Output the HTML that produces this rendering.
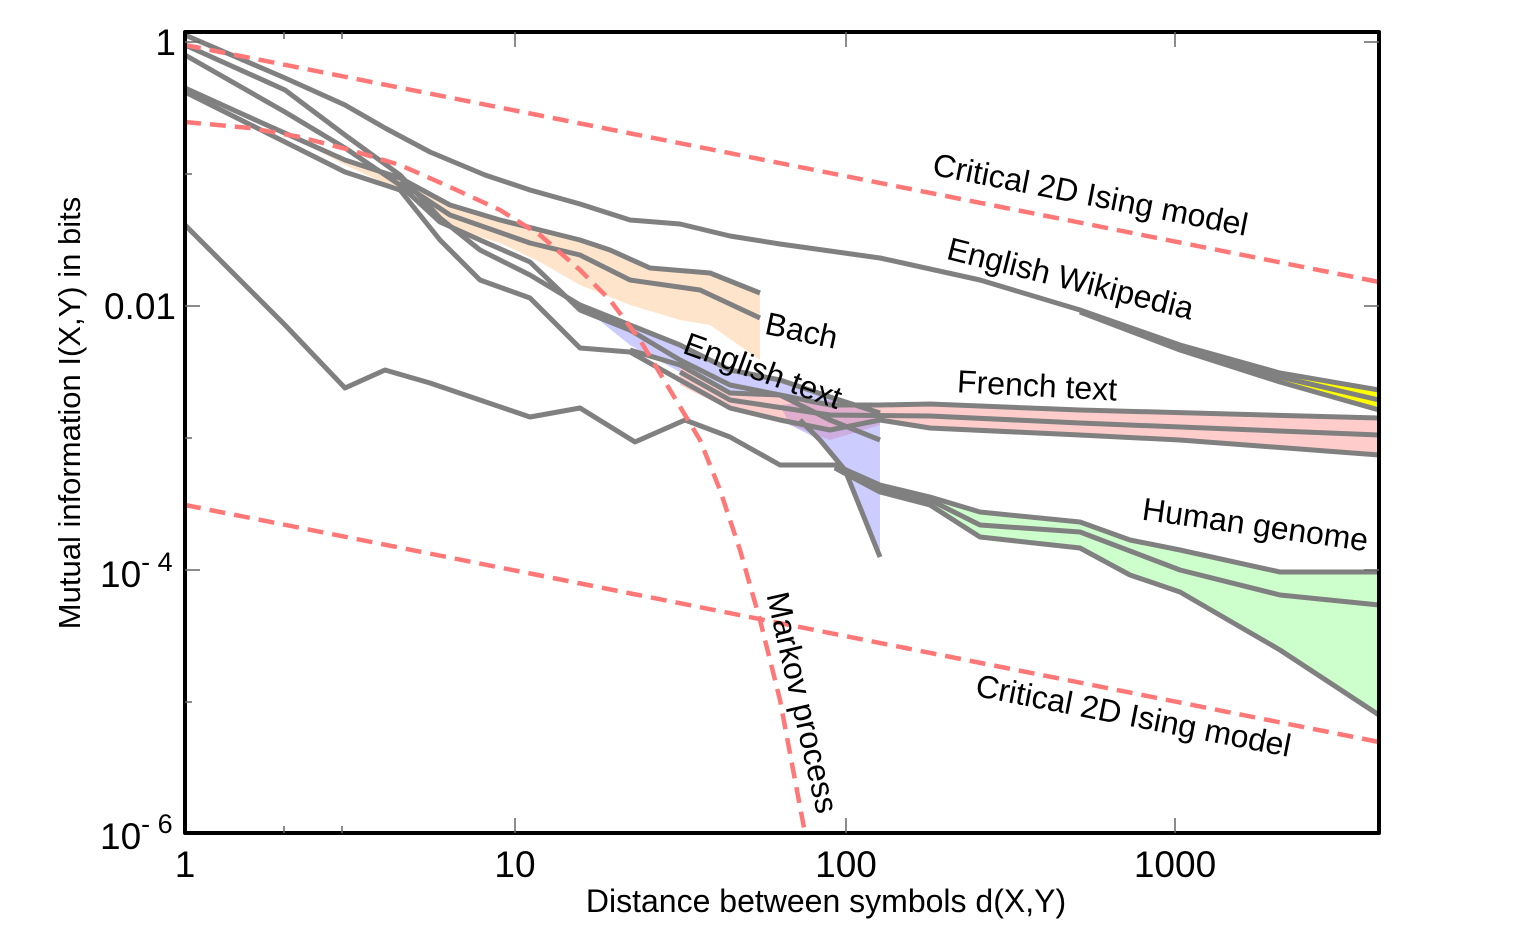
<!DOCTYPE html>
<html><head><meta charset="utf-8"><style>
body{margin:0;background:#fff;}
svg{display:block;font-family:"Liberation Sans",sans-serif;}
</style></head><body>
<svg width="1532" height="930" viewBox="0 0 1532 930">
<g fill="none" stroke-linejoin="round">
<polygon fill="#ffe4cc" points="260,120 345,160 400,178 450,205 500,220 540,230 580,240 610,250 650,268 710,273 760,293 760,360 710,325 680,320 630,305 580,285 540,262 500,243 450,228 400,190 345,165"/>
<polygon fill="#ccccff" points="580,305 630,325 680,345 730,370 780,380 830,397 880,413 880,557 845,470 820,440 780,420 730,395 680,372 630,345"/>
<polygon fill="#ffcccc" points="680,365 730,393 780,395 830,405 880,405 930,404 1080,410 1379,418 1379,455 1180,440 1080,435 930,428 880,420 830,430 780,420 730,410 680,385"/>
<polygon fill="#cc99cc" opacity="0.6" points="780,405 830,400 880,410 880,425 830,440 790,425"/>
<polygon fill="#ccffcc" points="880,485 930,497 980,512 1080,522 1130,540 1180,550 1280,572 1379,572 1379,715 1280,650 1180,592 1130,575 1080,548 980,537 930,505 880,492"/>
<polygon fill="#ffff00" points="1230,358 1280,373 1379,390 1379,410 1280,382"/>
<g stroke="#808080" stroke-width="5">
<polyline points="185,35 285,78 345,105 385,128 430,152 485,175 530,190 580,204 630,220 680,224 730,236 780,244 880,258 980,280 1080,310 1180,345 1280,373 1379,390"/>
<polyline points="1080,312 1180,350 1280,382 1379,410"/>
<polyline points="1080,311 1180,348 1280,377 1379,400"/>
<polyline points="185,45 285,90 345,135 400,175 440,218 480,250 530,275 580,305 630,325 680,345 730,370 780,380 830,397 880,413"/>
<polyline points="185,55 285,112 345,148 400,185 440,222 480,240 530,262 580,310 630,330 680,360 730,385 780,395 830,420 880,440"/>
<polyline points="800,420 820,440 845,470 880,557"/>
<polyline points="185,88 260,122 345,160 400,178 450,205 500,220 540,230 580,240 610,250 650,268 710,273 760,293"/>
<polyline points="400,182 450,215 530,243 580,255 630,280 700,290 760,318"/>
<polyline points="185,92 345,172 400,190 440,240 480,280 530,298 580,348 630,352 680,380 730,408 780,420 830,430 880,420 930,428 1080,435 1180,440 1379,455"/>
<polyline points="630,350 680,365 730,393 780,395 830,405 880,405 930,404 1080,410 1379,418"/>
<polyline points="680,372 730,400 830,415 930,416 1080,423 1379,435"/>
<polyline points="185,225 285,325 345,388 385,370 430,383 530,417 580,408 635,442 685,420 730,437 780,465 835,465 880,485 930,497 980,512 1080,522 1130,540 1180,550 1280,572 1379,572"/>
<polyline points="835,467 880,490 930,500 980,525 1080,532 1180,570 1280,595 1379,605"/>
<polyline points="835,468 880,492 930,505 980,537 1080,548 1130,575 1180,592 1280,650 1379,715"/>
</g>
<g stroke="#ff7777" stroke-width="4.5" stroke-dasharray="16,9">
<polyline points="185,45 1379,282"/>
<polyline points="185,505 1379,742"/>
<polyline points="185,122 250,128 300,137 350,150 400,165 450,187 500,210 540,235 580,270 610,300 640,340 670,390 700,440 720,490 740,550 760,620 780,700 795,780 805,833"/>
</g>
<rect x="185" y="32" width="1194" height="801" stroke="#000" stroke-width="4"/>
<g stroke="#666" stroke-width="1.5">
<line x1="185" y1="42" x2="200" y2="42"/><line x1="185" y1="306" x2="200" y2="306"/><line x1="185" y1="570" x2="200" y2="570"/>
<line x1="185" y1="174" x2="192" y2="174"/><line x1="185" y1="438" x2="192" y2="438"/><line x1="185" y1="702" x2="192" y2="702"/>
<line x1="1379" y1="42" x2="1364" y2="42"/><line x1="1379" y1="306" x2="1364" y2="306"/><line x1="1379" y1="570" x2="1364" y2="570"/>
<line x1="515" y1="833" x2="515" y2="818"/><line x1="846" y1="833" x2="846" y2="818"/><line x1="1175" y1="833" x2="1175" y2="818"/>
<line x1="515" y1="32" x2="515" y2="47"/><line x1="846" y1="32" x2="846" y2="47"/><line x1="1175" y1="32" x2="1175" y2="47"/>
<line x1="284" y1="833" x2="284" y2="826"/><line x1="342" y1="833" x2="342" y2="826"/><line x1="284" y1="32" x2="284" y2="39"/><line x1="342" y1="32" x2="342" y2="39"/>
</g>
</g>
<g font-size="32" fill="#000">
<text transform="translate(1090,197) rotate(11)" text-anchor="middle" dominant-baseline="middle">Critical 2D Ising model</text>
<text transform="translate(1070,281) rotate(14)" text-anchor="middle" dominant-baseline="middle">English Wikipedia</text>
<text transform="translate(801,333) rotate(12)" text-anchor="middle" dominant-baseline="middle">Bach</text>
<text transform="translate(762,373) rotate(20)" text-anchor="middle" dominant-baseline="middle">English text</text>
<text transform="translate(1037,388) rotate(3)" text-anchor="middle" dominant-baseline="middle">French text</text>
<text transform="translate(1255,527) rotate(8)" text-anchor="middle" dominant-baseline="middle">Human genome</text>
<text transform="translate(1133,718) rotate(11)" text-anchor="middle" dominant-baseline="middle">Critical 2D Ising model</text>
<text transform="translate(800,703) rotate(77)" text-anchor="middle" dominant-baseline="middle">Markov process</text>
</g>
<g font-size="37" fill="#000">
<text x="185" y="877" text-anchor="middle">1</text>
<text x="515" y="877" text-anchor="middle">10</text>
<text x="846" y="877" text-anchor="middle">100</text>
<text x="1175" y="877" text-anchor="middle">1000</text>
<text x="176" y="55" text-anchor="end">1</text>
<text x="176" y="319" text-anchor="end">0.01</text>
<text x="100" y="587">10<tspan font-size="27" dy="-16">- 4</tspan></text>
<text x="100" y="849">10<tspan font-size="27" dy="-16">- 6</tspan></text>
</g>
<text x="826" y="912" font-size="32" text-anchor="middle">Distance between symbols d(X,Y)</text>
<text transform="translate(80,413) rotate(-90)" font-size="31" text-anchor="middle">Mutual information I(X,Y) in bits</text>
</svg>
</body></html>
